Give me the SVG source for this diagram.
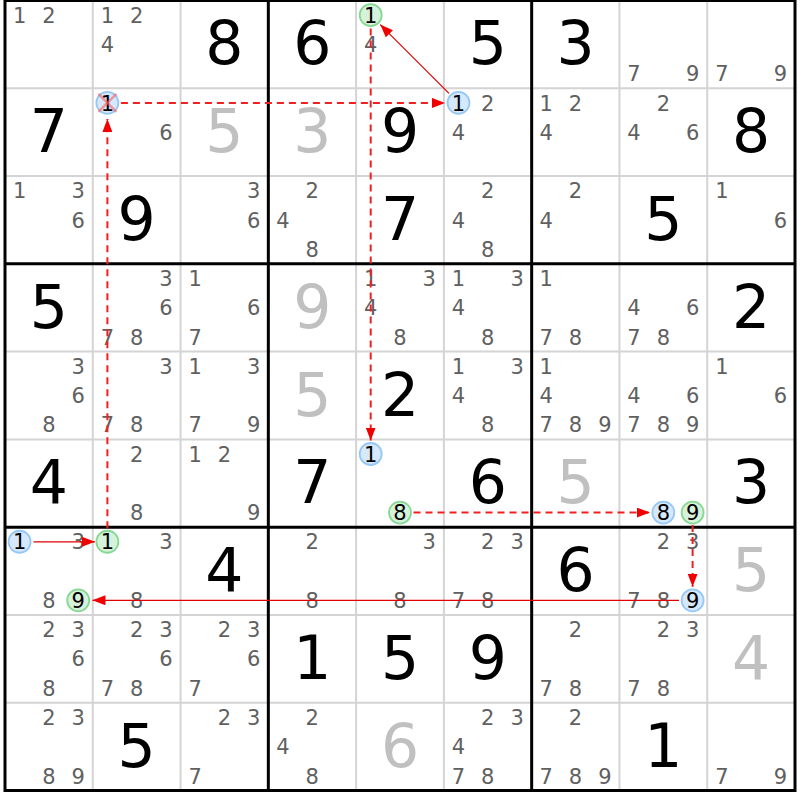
<svg xmlns="http://www.w3.org/2000/svg" width="800" height="800" viewBox="0 0 800 800">
<style>
text{font-family:"DejaVu Sans","Liberation Sans",sans-serif;text-anchor:middle}
.c{font-size:21px;fill:#606060}
.h{font-size:21px;fill:#000}
.b{font-size:60px;fill:#000}
.g{font-size:60px;fill:#c0c0c0}
.thin{stroke:#d4d4d4;stroke-width:2}
.thick{stroke:#000;stroke-width:3}
.cb{fill:#d6e8fb;stroke:#96c8f5;stroke-width:1.8}
.cg{fill:#d6f2da;stroke:#86d893;stroke-width:1.8}
.sol{stroke:#e00000;stroke-width:1.2;fill:none;marker-end:url(#ah)}
.das{stroke:#f02020;stroke-width:2;stroke-dasharray:7 5;fill:none;marker-end:url(#ah)}
.x{stroke:#ff5050;stroke-opacity:0.55;stroke-width:2.5}
</style>
<defs>
<marker id="ah" viewBox="0 0 13 10" refX="13" refY="5" markerWidth="13" markerHeight="10" markerUnits="userSpaceOnUse" orient="auto">
<path d="M0,0 L13,5 L0,10 z" fill="#f00000"/>
</marker>
</defs>
<rect width="800" height="800" fill="#fff"/>
<g id="grid">
<g class="thin">
<line x1="92.78" y1="0.5" x2="92.78" y2="790.5"/><line x1="180.56" y1="0.5" x2="180.56" y2="790.5"/>
<line x1="356.11" y1="0.5" x2="356.11" y2="790.5"/><line x1="443.89" y1="0.5" x2="443.89" y2="790.5"/>
<line x1="619.44" y1="0.5" x2="619.44" y2="790.5"/><line x1="707.22" y1="0.5" x2="707.22" y2="790.5"/>
<line x1="5" y1="88.28" x2="795" y2="88.28"/><line x1="5" y1="176.06" x2="795" y2="176.06"/>
<line x1="5" y1="351.61" x2="795" y2="351.61"/><line x1="5" y1="439.39" x2="795" y2="439.39"/>
<line x1="5" y1="614.94" x2="795" y2="614.94"/><line x1="5" y1="702.72" x2="795" y2="702.72"/>
</g>
<g class="thick">
<line x1="268.33" y1="0.5" x2="268.33" y2="790.5"/><line x1="531.67" y1="0.5" x2="531.67" y2="790.5"/>
<line x1="5" y1="263.83" x2="795" y2="263.83"/><line x1="5" y1="527.17" x2="795" y2="527.17"/>
<rect x="5" y="0.5" width="790" height="790" fill="none"/>
</g>
</g>

<g id="r1c1" transform="translate(48.89,44.39)"><text class="c" x="-29.3" y="-21.6">1</text><text class="c" x="0" y="-21.6">2</text></g>
<g id="r1c2" transform="translate(136.67,44.39)"><text class="c" x="-29.3" y="-21.6">1</text><text class="c" x="0" y="-21.6">2</text><text class="c" x="-29.3" y="7.6">4</text></g>
<g id="r1c3" transform="translate(224.44,44.39)"><text class="b" x="0" y="20">8</text></g>
<g id="r1c4" transform="translate(312.22,44.39)"><text class="b" x="0" y="20">6</text></g>
<g id="r1c5" transform="translate(400,44.39)"><circle class="cg" cx="-29.3" cy="-29.3" r="11"/><text class="h" x="-29.3" y="-21.6">1</text><text class="c" x="-29.3" y="7.6">4</text></g>
<g id="r1c6" transform="translate(487.78,44.39)"><text class="b" x="0" y="20">5</text></g>
<g id="r1c7" transform="translate(575.56,44.39)"><text class="b" x="0" y="20">3</text></g>
<g id="r1c8" transform="translate(663.33,44.39)"><text class="c" x="-29.3" y="36.9">7</text><text class="c" x="29.3" y="36.9">9</text></g>
<g id="r1c9" transform="translate(751.11,44.39)"><text class="c" x="-29.3" y="36.9">7</text><text class="c" x="29.3" y="36.9">9</text></g>

<g id="r2c1" transform="translate(48.89,132.17)"><text class="b" x="0" y="20">7</text></g>
<g id="r2c2" transform="translate(136.67,132.17)"><circle class="cb" cx="-29.3" cy="-29.3" r="11"/><text class="h" x="-29.3" y="-21.6">1</text><line class="x" x1="-38.3" y1="-38.3" x2="-20.3" y2="-20.3"/><line class="x" x1="-38.3" y1="-20.3" x2="-20.3" y2="-38.3"/><text class="c" x="29.3" y="7.6">6</text></g>
<g id="r2c3" transform="translate(224.44,132.17)"><text class="g" x="0" y="20">5</text></g>
<g id="r2c4" transform="translate(312.22,132.17)"><text class="g" x="0" y="20">3</text></g>
<g id="r2c5" transform="translate(400,132.17)"><text class="b" x="0" y="20">9</text></g>
<g id="r2c6" transform="translate(487.78,132.17)"><circle class="cb" cx="-29.3" cy="-29.3" r="11"/><text class="h" x="-29.3" y="-21.6">1</text><text class="c" x="0" y="-21.6">2</text><text class="c" x="-29.3" y="7.6">4</text></g>
<g id="r2c7" transform="translate(575.56,132.17)"><text class="c" x="-29.3" y="-21.6">1</text><text class="c" x="0" y="-21.6">2</text><text class="c" x="-29.3" y="7.6">4</text></g>
<g id="r2c8" transform="translate(663.33,132.17)"><text class="c" x="0" y="-21.6">2</text><text class="c" x="-29.3" y="7.6">4</text><text class="c" x="29.3" y="7.6">6</text></g>
<g id="r2c9" transform="translate(751.11,132.17)"><text class="b" x="0" y="20">8</text></g>

<g id="r3c1" transform="translate(48.89,219.94)"><text class="c" x="-29.3" y="-21.6">1</text><text class="c" x="29.3" y="-21.6">3</text><text class="c" x="29.3" y="7.6">6</text></g>
<g id="r3c2" transform="translate(136.67,219.94)"><text class="b" x="0" y="20">9</text></g>
<g id="r3c3" transform="translate(224.44,219.94)"><text class="c" x="29.3" y="-21.6">3</text><text class="c" x="29.3" y="7.6">6</text></g>
<g id="r3c4" transform="translate(312.22,219.94)"><text class="c" x="0" y="-21.6">2</text><text class="c" x="-29.3" y="7.6">4</text><text class="c" x="0" y="36.9">8</text></g>
<g id="r3c5" transform="translate(400,219.94)"><text class="b" x="0" y="20">7</text></g>
<g id="r3c6" transform="translate(487.78,219.94)"><text class="c" x="0" y="-21.6">2</text><text class="c" x="-29.3" y="7.6">4</text><text class="c" x="0" y="36.9">8</text></g>
<g id="r3c7" transform="translate(575.56,219.94)"><text class="c" x="0" y="-21.6">2</text><text class="c" x="-29.3" y="7.6">4</text></g>
<g id="r3c8" transform="translate(663.33,219.94)"><text class="b" x="0" y="20">5</text></g>
<g id="r3c9" transform="translate(751.11,219.94)"><text class="c" x="-29.3" y="-21.6">1</text><text class="c" x="29.3" y="7.6">6</text></g>

<g id="r4c1" transform="translate(48.89,307.72)"><text class="b" x="0" y="20">5</text></g>
<g id="r4c2" transform="translate(136.67,307.72)"><text class="c" x="29.3" y="-21.6">3</text><text class="c" x="29.3" y="7.6">6</text><text class="c" x="-29.3" y="36.9">7</text><text class="c" x="0" y="36.9">8</text></g>
<g id="r4c3" transform="translate(224.44,307.72)"><text class="c" x="-29.3" y="-21.6">1</text><text class="c" x="29.3" y="7.6">6</text><text class="c" x="-29.3" y="36.9">7</text></g>
<g id="r4c4" transform="translate(312.22,307.72)"><text class="g" x="0" y="20">9</text></g>
<g id="r4c5" transform="translate(400,307.72)"><text class="c" x="-29.3" y="-21.6">1</text><text class="c" x="29.3" y="-21.6">3</text><text class="c" x="-29.3" y="7.6">4</text><text class="c" x="0" y="36.9">8</text></g>
<g id="r4c6" transform="translate(487.78,307.72)"><text class="c" x="-29.3" y="-21.6">1</text><text class="c" x="29.3" y="-21.6">3</text><text class="c" x="-29.3" y="7.6">4</text><text class="c" x="0" y="36.9">8</text></g>
<g id="r4c7" transform="translate(575.56,307.72)"><text class="c" x="-29.3" y="-21.6">1</text><text class="c" x="-29.3" y="36.9">7</text><text class="c" x="0" y="36.9">8</text></g>
<g id="r4c8" transform="translate(663.33,307.72)"><text class="c" x="-29.3" y="7.6">4</text><text class="c" x="29.3" y="7.6">6</text><text class="c" x="-29.3" y="36.9">7</text><text class="c" x="0" y="36.9">8</text></g>
<g id="r4c9" transform="translate(751.11,307.72)"><text class="b" x="0" y="20">2</text></g>

<g id="r5c1" transform="translate(48.89,395.5)"><text class="c" x="29.3" y="-21.6">3</text><text class="c" x="29.3" y="7.6">6</text><text class="c" x="0" y="36.9">8</text></g>
<g id="r5c2" transform="translate(136.67,395.5)"><text class="c" x="29.3" y="-21.6">3</text><text class="c" x="-29.3" y="36.9">7</text><text class="c" x="0" y="36.9">8</text></g>
<g id="r5c3" transform="translate(224.44,395.5)"><text class="c" x="-29.3" y="-21.6">1</text><text class="c" x="29.3" y="-21.6">3</text><text class="c" x="-29.3" y="36.9">7</text><text class="c" x="29.3" y="36.9">9</text></g>
<g id="r5c4" transform="translate(312.22,395.5)"><text class="g" x="0" y="20">5</text></g>
<g id="r5c5" transform="translate(400,395.5)"><text class="b" x="0" y="20">2</text></g>
<g id="r5c6" transform="translate(487.78,395.5)"><text class="c" x="-29.3" y="-21.6">1</text><text class="c" x="29.3" y="-21.6">3</text><text class="c" x="-29.3" y="7.6">4</text><text class="c" x="0" y="36.9">8</text></g>
<g id="r5c7" transform="translate(575.56,395.5)"><text class="c" x="-29.3" y="-21.6">1</text><text class="c" x="-29.3" y="7.6">4</text><text class="c" x="-29.3" y="36.9">7</text><text class="c" x="0" y="36.9">8</text><text class="c" x="29.3" y="36.9">9</text></g>
<g id="r5c8" transform="translate(663.33,395.5)"><text class="c" x="-29.3" y="7.6">4</text><text class="c" x="29.3" y="7.6">6</text><text class="c" x="-29.3" y="36.9">7</text><text class="c" x="0" y="36.9">8</text><text class="c" x="29.3" y="36.9">9</text></g>
<g id="r5c9" transform="translate(751.11,395.5)"><text class="c" x="-29.3" y="-21.6">1</text><text class="c" x="29.3" y="7.6">6</text></g>

<g id="r6c1" transform="translate(48.89,483.28)"><text class="b" x="0" y="20">4</text></g>
<g id="r6c2" transform="translate(136.67,483.28)"><text class="c" x="0" y="-21.6">2</text><text class="c" x="0" y="36.9">8</text></g>
<g id="r6c3" transform="translate(224.44,483.28)"><text class="c" x="-29.3" y="-21.6">1</text><text class="c" x="0" y="-21.6">2</text><text class="c" x="29.3" y="36.9">9</text></g>
<g id="r6c4" transform="translate(312.22,483.28)"><text class="b" x="0" y="20">7</text></g>
<g id="r6c5" transform="translate(400,483.28)"><circle class="cb" cx="-29.3" cy="-29.3" r="11"/><text class="h" x="-29.3" y="-21.6">1</text><circle class="cg" cx="0" cy="29.3" r="11"/><text class="h" x="0" y="36.9">8</text></g>
<g id="r6c6" transform="translate(487.78,483.28)"><text class="b" x="0" y="20">6</text></g>
<g id="r6c7" transform="translate(575.56,483.28)"><text class="g" x="0" y="20">5</text></g>
<g id="r6c8" transform="translate(663.33,483.28)"><circle class="cb" cx="0" cy="29.3" r="11"/><text class="h" x="0" y="36.9">8</text><circle class="cg" cx="29.3" cy="29.3" r="11"/><text class="h" x="29.3" y="36.9">9</text></g>
<g id="r6c9" transform="translate(751.11,483.28)"><text class="b" x="0" y="20">3</text></g>

<g id="r7c1" transform="translate(48.89,571.06)"><circle class="cb" cx="-29.3" cy="-29.3" r="11"/><text class="h" x="-29.3" y="-21.6">1</text><text class="c" x="29.3" y="-21.6">3</text><text class="c" x="0" y="36.9">8</text><circle class="cg" cx="29.3" cy="29.3" r="11"/><text class="h" x="29.3" y="36.9">9</text></g>
<g id="r7c2" transform="translate(136.67,571.06)"><circle class="cg" cx="-29.3" cy="-29.3" r="11"/><text class="h" x="-29.3" y="-21.6">1</text><text class="c" x="29.3" y="-21.6">3</text><text class="c" x="0" y="36.9">8</text></g>
<g id="r7c3" transform="translate(224.44,571.06)"><text class="b" x="0" y="20">4</text></g>
<g id="r7c4" transform="translate(312.22,571.06)"><text class="c" x="0" y="-21.6">2</text><text class="c" x="0" y="36.9">8</text></g>
<g id="r7c5" transform="translate(400,571.06)"><text class="c" x="29.3" y="-21.6">3</text><text class="c" x="0" y="36.9">8</text></g>
<g id="r7c6" transform="translate(487.78,571.06)"><text class="c" x="0" y="-21.6">2</text><text class="c" x="29.3" y="-21.6">3</text><text class="c" x="-29.3" y="36.9">7</text><text class="c" x="0" y="36.9">8</text></g>
<g id="r7c7" transform="translate(575.56,571.06)"><text class="b" x="0" y="20">6</text></g>
<g id="r7c8" transform="translate(663.33,571.06)"><text class="c" x="0" y="-21.6">2</text><text class="c" x="29.3" y="-21.6">3</text><text class="c" x="-29.3" y="36.9">7</text><text class="c" x="0" y="36.9">8</text><circle class="cb" cx="29.3" cy="29.3" r="11"/><text class="h" x="29.3" y="36.9">9</text></g>
<g id="r7c9" transform="translate(751.11,571.06)"><text class="g" x="0" y="20">5</text></g>

<g id="r8c1" transform="translate(48.89,658.83)"><text class="c" x="0" y="-21.6">2</text><text class="c" x="29.3" y="-21.6">3</text><text class="c" x="29.3" y="7.6">6</text><text class="c" x="0" y="36.9">8</text></g>
<g id="r8c2" transform="translate(136.67,658.83)"><text class="c" x="0" y="-21.6">2</text><text class="c" x="29.3" y="-21.6">3</text><text class="c" x="29.3" y="7.6">6</text><text class="c" x="-29.3" y="36.9">7</text><text class="c" x="0" y="36.9">8</text></g>
<g id="r8c3" transform="translate(224.44,658.83)"><text class="c" x="0" y="-21.6">2</text><text class="c" x="29.3" y="-21.6">3</text><text class="c" x="29.3" y="7.6">6</text><text class="c" x="-29.3" y="36.9">7</text></g>
<g id="r8c4" transform="translate(312.22,658.83)"><text class="b" x="0" y="20">1</text></g>
<g id="r8c5" transform="translate(400,658.83)"><text class="b" x="0" y="20">5</text></g>
<g id="r8c6" transform="translate(487.78,658.83)"><text class="b" x="0" y="20">9</text></g>
<g id="r8c7" transform="translate(575.56,658.83)"><text class="c" x="0" y="-21.6">2</text><text class="c" x="-29.3" y="36.9">7</text><text class="c" x="0" y="36.9">8</text></g>
<g id="r8c8" transform="translate(663.33,658.83)"><text class="c" x="0" y="-21.6">2</text><text class="c" x="29.3" y="-21.6">3</text><text class="c" x="-29.3" y="36.9">7</text><text class="c" x="0" y="36.9">8</text></g>
<g id="r8c9" transform="translate(751.11,658.83)"><text class="g" x="0" y="20">4</text></g>

<g id="r9c1" transform="translate(48.89,746.61)"><text class="c" x="0" y="-21.6">2</text><text class="c" x="29.3" y="-21.6">3</text><text class="c" x="0" y="36.9">8</text><text class="c" x="29.3" y="36.9">9</text></g>
<g id="r9c2" transform="translate(136.67,746.61)"><text class="b" x="0" y="20">5</text></g>
<g id="r9c3" transform="translate(224.44,746.61)"><text class="c" x="0" y="-21.6">2</text><text class="c" x="29.3" y="-21.6">3</text><text class="c" x="-29.3" y="36.9">7</text></g>
<g id="r9c4" transform="translate(312.22,746.61)"><text class="c" x="0" y="-21.6">2</text><text class="c" x="-29.3" y="7.6">4</text><text class="c" x="0" y="36.9">8</text></g>
<g id="r9c5" transform="translate(400,746.61)"><text class="g" x="0" y="20">6</text></g>
<g id="r9c6" transform="translate(487.78,746.61)"><text class="c" x="0" y="-21.6">2</text><text class="c" x="29.3" y="-21.6">3</text><text class="c" x="-29.3" y="7.6">4</text><text class="c" x="-29.3" y="36.9">7</text><text class="c" x="0" y="36.9">8</text></g>
<g id="r9c7" transform="translate(575.56,746.61)"><text class="c" x="0" y="-21.6">2</text><text class="c" x="-29.3" y="36.9">7</text><text class="c" x="0" y="36.9">8</text><text class="c" x="29.3" y="36.9">9</text></g>
<g id="r9c8" transform="translate(663.33,746.61)"><text class="b" x="0" y="20">1</text></g>
<g id="r9c9" transform="translate(751.11,746.61)"><text class="c" x="-29.3" y="36.9">7</text><text class="c" x="29.3" y="36.9">9</text></g>

<g id="connectors">
<line class="sol" x1="449" y1="93.4" x2="380.2" y2="24.6"/>
<line class="das" x1="370.7" y1="28.6" x2="370.7" y2="440.5"/>
<line class="das" x1="413.5" y1="512.6" x2="650" y2="512.6"/>
<line class="das" x1="692.6" y1="525" x2="692.6" y2="586.8"/>
<line class="sol" x1="679" y1="600.3" x2="92.5" y2="600.3"/>
<line class="sol" x1="33.5" y1="541.8" x2="95" y2="541.8"/>
<line class="das" x1="107.4" y1="528.3" x2="107.4" y2="119"/>
<line class="das" x1="120.9" y1="102.9" x2="445" y2="102.9"/>
</g>
</svg>
